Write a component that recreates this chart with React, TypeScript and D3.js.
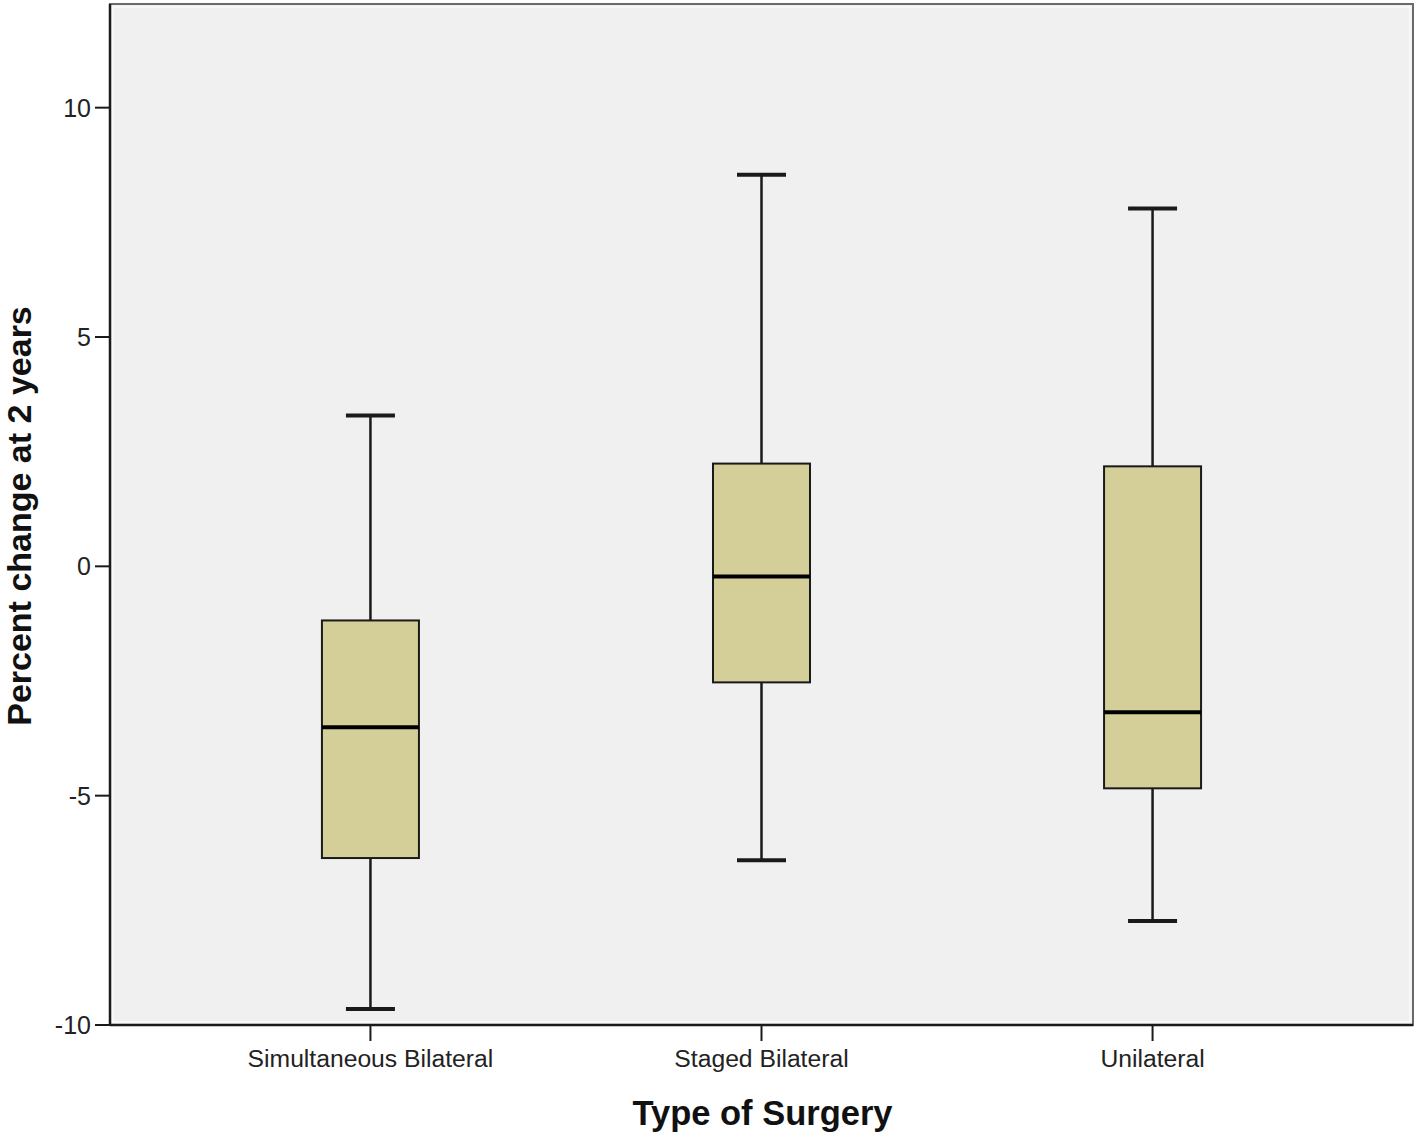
import { useEffect, useRef } from 'react';
import * as d3 from 'd3';

// 수술 종류별 2년 변화율 박스플롯 값
const categories = ['Simultaneous Bilateral', 'Staged Bilateral', 'Unilateral'];
const whiskerHigh = [3.29, 8.54, 7.8];
const q3 = [-1.18, 2.24, 2.18];
const medians = [-3.51, -0.22, -3.18];
const q1 = [-6.36, -2.53, -4.84];
const whiskerLow = [-9.65, -6.41, -7.73];
const yTicks = [-10, -5, 0, 5, 10];

const App = () => {
  const svgRef = useRef<SVGSVGElement>(null);

  useEffect(() => {
    if (!svgRef.current) return;
    const svg = d3.select(svgRef.current);
    svg.selectAll('*').remove();

    const left = 110;
    const right = 1413;
    const top = 4;
    const bottom = 1025;
    const font = '"Liberation Sans", Arial, sans-serif';

    const x = d3.scalePoint<string>().domain(categories).range([left, right]).padding(0.666);
    const y = d3.scaleLinear().domain([-10, 12.26]).range([bottom, top]);

    // 플롯 배경
    svg.append('rect')
      .attr('x', left).attr('y', top)
      .attr('width', right - left).attr('height', bottom - top)
      .attr('fill', '#f0f0f0')
      .attr('stroke', '#6a6a6a')
      .attr('stroke-width', 2);
    svg.append('rect')
      .attr('x', left + 3).attr('y', top + 3)
      .attr('width', right - left - 6).attr('height', bottom - top - 6)
      .attr('fill', 'none')
      .attr('stroke', '#fafafa')
      .attr('stroke-width', 1.5);

    const boxW = 97;
    const capW = 49;
    const dark = '#1a1a1a';

    categories.forEach((c, i) => {
      const cx = x(c)!;
      // 수염
      svg.append('line')
        .attr('x1', cx).attr('x2', cx)
        .attr('y1', y(whiskerHigh[i])).attr('y2', y(q3[i]))
        .attr('stroke', dark).attr('stroke-width', 2.5);
      svg.append('line')
        .attr('x1', cx).attr('x2', cx)
        .attr('y1', y(q1[i])).attr('y2', y(whiskerLow[i]))
        .attr('stroke', dark).attr('stroke-width', 2.5);
      [whiskerHigh[i], whiskerLow[i]].forEach(v => {
        svg.append('line')
          .attr('x1', cx - capW / 2).attr('x2', cx + capW / 2)
          .attr('y1', y(v)).attr('y2', y(v))
          .attr('stroke', dark).attr('stroke-width', 4);
      });
      // 박스
      svg.append('rect')
        .attr('x', cx - boxW / 2).attr('y', y(q3[i]))
        .attr('width', boxW).attr('height', y(q1[i]) - y(q3[i]))
        .attr('fill', '#d4cf98')
        .attr('stroke', dark).attr('stroke-width', 2);
      // 중앙값
      svg.append('line')
        .attr('x1', cx - boxW / 2).attr('x2', cx + boxW / 2)
        .attr('y1', y(medians[i])).attr('y2', y(medians[i]))
        .attr('stroke', '#000').attr('stroke-width', 4);
    });

    // 축선
    svg.append('line')
      .attr('x1', left).attr('x2', left).attr('y1', top).attr('y2', bottom)
      .attr('stroke', dark).attr('stroke-width', 2.5);
    svg.append('line')
      .attr('x1', left).attr('x2', right).attr('y1', bottom).attr('y2', bottom)
      .attr('stroke', dark).attr('stroke-width', 2.5);

    // y 눈금
    yTicks.forEach(t => {
      svg.append('line')
        .attr('x1', left - 15).attr('x2', left)
        .attr('y1', y(t)).attr('y2', y(t))
        .attr('stroke', dark).attr('stroke-width', 2);
      svg.append('text')
        .attr('x', left - 19).attr('y', y(t))
        .attr('text-anchor', 'end')
        .attr('dominant-baseline', 'central')
        .attr('font-family', font).attr('font-size', 25)
        .attr('fill', '#222')
        .text(t.toString());
    });

    // x 눈금
    categories.forEach(c => {
      svg.append('line')
        .attr('x1', x(c)!).attr('x2', x(c)!)
        .attr('y1', bottom).attr('y2', bottom + 16)
        .attr('stroke', dark).attr('stroke-width', 2);
      svg.append('text')
        .attr('x', x(c)!).attr('y', bottom + 42)
        .attr('text-anchor', 'middle')
        .attr('font-family', font).attr('font-size', 24.7)
        .attr('fill', '#222')
        .text(c);
    });

    // 축 제목
    svg.append('text')
      .attr('x', (left + right) / 2 + 1).attr('y', 1125)
      .attr('text-anchor', 'middle')
      .attr('font-family', font).attr('font-size', 34.5).attr('font-weight', 'bold')
      .attr('fill', '#111')
      .text('Type of Surgery');
    svg.append('text')
      .attr('transform', `translate(31, 516) rotate(-90)`)
      .attr('text-anchor', 'middle')
      .attr('font-family', font).attr('font-size', 34).attr('font-weight', 'bold')
      .attr('fill', '#111')
      .text('Percent change at 2 years');
  }, []);

  return (
    <svg
      ref={svgRef}
      width="1418"
      height="1135"
      style={{ position: 'absolute', left: 0, top: 0, background: '#fff' }}
    />
  );
};

export default App;
